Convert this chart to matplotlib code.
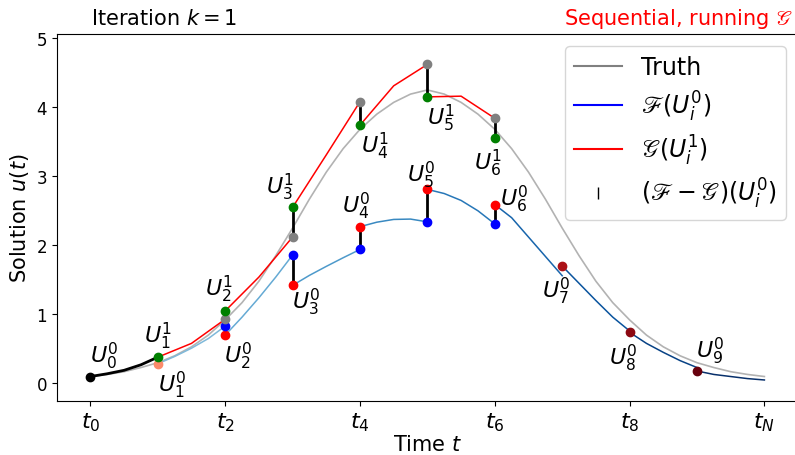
import numpy as np
import matplotlib.pyplot as plt
from matplotlib.lines import Line2D

# time nodes t_0 ... t_N
t_nodes = np.arange(11)

# exact solution, sampled every 0.25
t_truth = np.arange(0, 10.01, 0.25)
u_truth = [0.10, 0.13, 0.17, 0.23, 0.30, 0.40, 0.53, 0.70, 0.92, 1.17, 1.48, 1.85,
           2.25, 2.67, 3.06, 3.40, 3.68, 3.90, 4.07, 4.19, 4.25, 4.19, 4.07, 3.90,
           3.68, 3.40, 3.06, 2.67, 2.25, 1.85, 1.48, 1.17, 0.92, 0.70, 0.53, 0.40,
           0.30, 0.23, 0.17, 0.13, 0.10]

# fine propagation F(U_i^0) on each interval, 5 samples per interval
fine_runs = [
    [0.10, 0.14, 0.19, 0.27, 0.38],
    [0.285, 0.39, 0.51, 0.65, 0.83],
    [0.70, 0.96, 1.24, 1.54, 1.86],
    [1.42, 1.565, 1.695, 1.82, 1.94],
    [2.27, 2.335, 2.375, 2.38, 2.34],
    [2.81, 2.75, 2.65, 2.50, 2.31],
    [2.59, 2.40, 2.12, 1.84, 1.56],
    [1.70, 1.45, 1.20, 0.96, 0.76],
    [0.74, 0.58, 0.45, 0.33, 0.23],
    [0.18, 0.13, 0.10, 0.07, 0.05],
]

# coarse propagation G(U_i^1), 2 steps per interval, intervals 1..5
coarse_runs = [
    [0.38, 0.58, 0.93],
    [1.05, 1.54, 2.12],
    [2.55, 3.31, 4.08],
    [3.74, 4.31, 4.62],
    [4.15, 4.16, 3.84],
]

U0_0 = 0.10
U_0 = [0.285, 0.70, 1.42, 2.27, 2.81, 2.59, 1.70, 0.74, 0.18]   # U_i^0, i=1..9
U_1 = [0.38, 1.05, 2.55, 3.74, 4.15, 3.56]                      # U_i^1, i=1..6
F_end = [0.83, 1.86, 1.94, 2.34, 2.31]                          # F(U_{i-1}^0), i=2..6
G_end = [0.93, 2.12, 4.08, 4.62, 3.84]                          # G(U_{i-1}^1), i=2..6

xtick_labels = ['$t_0$', '$t_2$', '$t_4$', '$t_6$', '$t_8$', '$t_N$']

# label positions (t, u) for the U annotations
lab_U0 = [(0.2, 0.41), (1.21, -0.01), (2.2, 0.41), (3.2, 1.19), (3.94, 2.58),
          (4.91, 3.03), (6.29, 2.68), (6.91, 1.34), (7.9, 0.37), (9.19, 0.48)]
lab_U1 = [(1.0, 0.70), (1.91, 1.37), (2.81, 2.86), (4.23, 3.45), (5.2, 3.85),
          (5.9, 3.2)]

fig = plt.figure(figsize=(7.95, 4.56), dpi=100)
ax = fig.add_axes([0.0713, 0.1191, 0.9326, 0.8041])

ax.plot(t_truth, u_truth, color='gray', alpha=0.6, lw=1.2)

blues = plt.cm.Blues(np.linspace(0.45, 1.0, 9))
for i, run in enumerate(fine_runs):
    tt = np.linspace(i, i + 1, len(run))
    if i == 0:
        ax.plot(tt, run, color='k', lw=2)
    else:
        ax.plot(tt, run, color=blues[i - 1], lw=1.1)

for i, run in enumerate(coarse_runs):
    tt = np.linspace(i + 1, i + 2, len(run))
    ax.plot(tt, run, color='red', lw=1.1)

for i in range(5):
    n = i + 2
    ax.plot([n, n], [U_0[n - 1], F_end[i]], color='k', lw=2)
    ax.plot([n, n], [G_end[i], U_1[n - 1]], color='k', lw=2)

ms = 6
ax.plot(0, U0_0, 'o', color='k', ms=ms)
reds = plt.cm.Reds(np.linspace(0.4, 1.0, 9))
for i, u in enumerate(U_0):
    n = i + 1
    c = 'red' if 2 <= n <= 6 else reds[i]
    ax.plot(n, u, 'o', color=c, ms=ms)
for i in range(5):
    ax.plot(i + 2, F_end[i], 'o', color='blue', ms=ms)
    ax.plot(i + 2, G_end[i], 'o', color='gray', ms=ms)
for i, u in enumerate(U_1):
    ax.plot(i + 1, u, 'o', color='green', ms=ms)

for i, (x, y) in enumerate(lab_U0):
    ax.text(x, y, '$U_{%d}^0$' % i, fontsize=16, ha='center', va='center')
for i, (x, y) in enumerate(lab_U1):
    ax.text(x, y, '$U_{%d}^1$' % (i + 1), fontsize=16, ha='center', va='center')

ax.set_xlim(-0.5, 10.5)
ax.set_ylim(-0.25, 5.06)
ax.set_xticks(t_nodes[::2])
ax.set_xticklabels(xtick_labels, fontsize=16)
ax.tick_params(axis='y', labelsize=12)
ax.set_xlabel('Time $t$', fontsize=15, labelpad=1)
ax.set_ylabel('Solution $u(t)$', fontsize=15)

handles = [Line2D([], [], color='gray', lw=1.5),
           Line2D([], [], color='blue', lw=1.5),
           Line2D([], [], color='red', lw=1.5),
           Line2D([], [], color='k', marker='|', ls='none', ms=8)]
labels = ['Truth', r'$\mathscr{F}(U_i^0)$', r'$\mathscr{G}(U_i^1)$',
          r'$(\mathscr{F}-\mathscr{G})(U_i^0)$']
ax.legend(handles, labels, loc='upper right', fontsize=17, labelspacing=0.4,
          bbox_to_anchor=(786 / 795, 1 - 47 / 456), bbox_transform=fig.transFigure,
          borderaxespad=0)

fig.text(91 / 795, 1 - 25 / 456, 'Iteration $k=1$', fontsize=15, va='baseline')
fig.text(793 / 795, 1 - 25 / 456, r'Sequential, running $\mathscr{G}$', fontsize=15,
         color='red', ha='right', va='baseline')

fig.savefig('out.png', dpi=100)
